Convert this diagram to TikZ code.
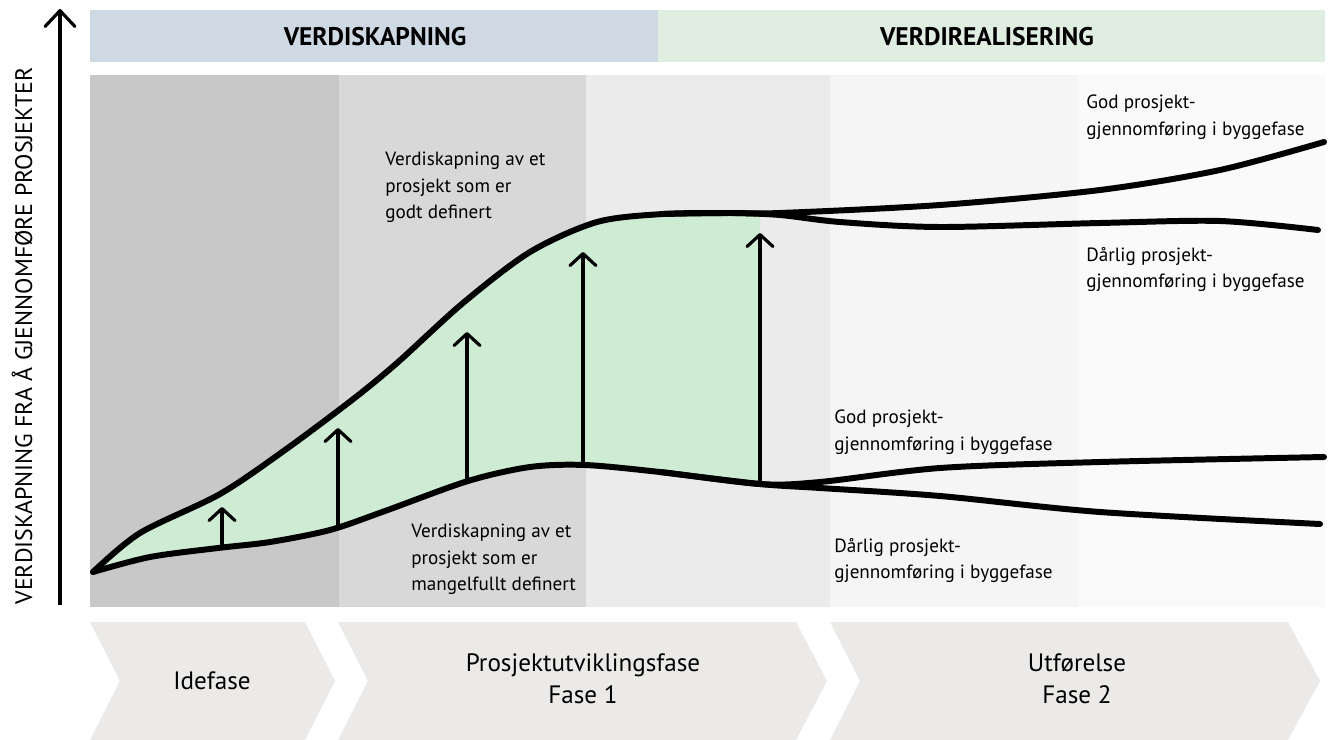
\documentclass[tikz,border=0pt]{standalone}
\usepackage{fontspec}
\setmainfont{PT Sans}
\usetikzlibrary{arrows.meta}

\definecolor{skapbar}{HTML}{CFD9E4}
\definecolor{realbar}{HTML}{E0EDE1}
\definecolor{colA}{HTML}{C8C8C8}
\definecolor{colB}{HTML}{D8D8D8}
\definecolor{colC}{HTML}{EBEBEB}
\definecolor{colD}{HTML}{F5F5F5}
\definecolor{colE}{HTML}{FAFAFA}
\definecolor{fasegray}{HTML}{EBEAE8}
\definecolor{verdigreen}{HTML}{CEEBD3}

\def \curveWidth {3.4pt}

\tikzset{
  barlabel/.style={font=\bfseries\fontsize{14.5}{17}\selectfont},
  fasetext/.style={align=center, font=\fontsize{14.3}{18.2}\selectfont},
  note/.style={align=left, anchor=north west, inner sep=0pt, font=\fontsize{10.9}{15.1}\selectfont},
  verdicurve/.style={line width=\curveWidth, line cap=round, line join=round},
  verdiarrow/.style={line width=1.8pt, -{Straight Barb[length=2.4mm,width=5.2mm,round]}},
}

\begin{document}
\begin{tikzpicture}[x=0.02cm, y=-0.02cm]
  \useasboundingbox (0,0) rectangle (1328,740);
  \fill[white] (0,0) rectangle (1328,740);

  % top bars
  \fill[skapbar] (90,10) rectangle (658,62);
  \fill[realbar] (658,10) rectangle (1325,62);
  \node[barlabel] (skaplabel) at (375,37) {VERDISKAPNING};
  \node[barlabel] (reallabel) at (987,37) {VERDIREALISERING};

  % columns
  \foreach \xa/\xb/\col in {90/338/colA, 338/585/colB, 585/830/colC, 830/1078/colD, 1078/1325/colE}
    \fill[\col] (\xa,75) rectangle (\xb,607);
  \draw[black!22, line width=0.4pt] (338,75) -- (338,607);
  \draw[black!16, line width=0.4pt] (585,75) -- (585,607);

  % y axis
  \coordinate (yfoot) at (60,605);
  \coordinate (ytop) at (60,9);
  \draw[line width=1.8pt, -{Straight Barb[length=3.2mm,width=6mm,round]}] (yfoot) -- (ytop);
  \node[rotate=90, font=\fontsize{13.6}{16}\selectfont] (ylabel) at (22,336) {VERDISKAPNING FRA Å GJENNOMFØRE PROSJEKTER};

  % green area
  \begin{scope}
    \clip (90,75) rectangle (760,607);
    \fill[verdigreen] plot[smooth] coordinates {(93,572) (140,533) (220,494) (285,450) (352,400) (397,363) (463,303) (530,252) (597,222) (663,214) (730,213) (780,213) (940,205) (1100,190) (1220,170) (1324,142)}
      -- plot[smooth] coordinates {(1324,457) (1100,462) (940,468) (820,482) (760,484) (660,472) (585,465) (530,467) (468,481) (385,511) (330,530) (270,542) (218,548) (150,557) (93,572)} -- cycle;
  \end{scope}

  % arrows
  \foreach \i/\x/\yb/\yt in {1/222/548/507, 2/338/527/428, 3/467/480/332, 4/583/464/252, 5/760/482/233} {
    \coordinate (base\i) at (\x,\yb);
    \coordinate (tip\i) at (\x,\yt);
    \draw[verdiarrow] (base\i) -- (tip\i);
  }

  % curves
  \draw[verdicurve] plot[smooth] coordinates {(93,572) (140,533) (220,494) (285,450) (352,400) (397,363) (463,303) (530,252) (597,222) (663,214) (730,213) (780,213) (940,205) (1100,190) (1220,170) (1324,142)};
  \draw[verdicurve] plot[smooth] coordinates {(663,214) (730,213) (780,215) (840,222) (940,227) (1100,223) (1220,221) (1318,230)};
  \draw[verdicurve] plot[smooth] coordinates {(93,572) (150,557) (218,548) (270,542) (330,530) (385,511) (468,481) (530,467) (585,465) (660,472) (760,484) (820,482) (940,468) (1100,462) (1324,457)};
  \draw[verdicurve] plot[smooth] coordinates {(660,472) (760,484) (820,488) (940,496) (1100,512) (1320,524)};

  % notes
  \node[note] (godtnote) at (385,152) {Verdiskapning av et\\prosjekt som er\\godt definert};
  \node[note] (mangelnote) at (411,524) {Verdiskapning av et\\prosjekt som er\\mangelfullt definert};
  \node[note] (godhigh) at (1086,95) {God prosjekt-\\gjennomføring i byggefase};
  \node[note] (darhigh) at (1086,247) {Dårlig prosjekt-\\gjennomføring i byggefase};
  \node[note] (godlow) at (834,410) {God prosjekt-\\gjennomføring i byggefase};
  \node[note] (darlow) at (834,538) {Dårlig prosjekt-\\gjennomføring i byggefase};

  % phases
  \fill[fasegray] (90,622) -- (305,622) -- (335,681) -- (305,740) -- (90,740) -- (120,681) -- cycle;
  \fill[fasegray] (338,622) -- (796,622) -- (827,681) -- (796,740) -- (338,740) -- (368,681) -- cycle;
  \fill[fasegray] (830,622) -- (1288,622) -- (1320,681) -- (1288,740) -- (830,740) -- (860,681) -- cycle;
  \node[fasetext] (idefase) at (212,681) {Idefase};
  \node[fasetext] (fase1) at (583,679) {Prosjektutviklingsfase\\Fase 1};
  \node[fasetext] (fase2) at (1077,679) {Utførelse\\Fase 2};
\end{tikzpicture}
\end{document}
